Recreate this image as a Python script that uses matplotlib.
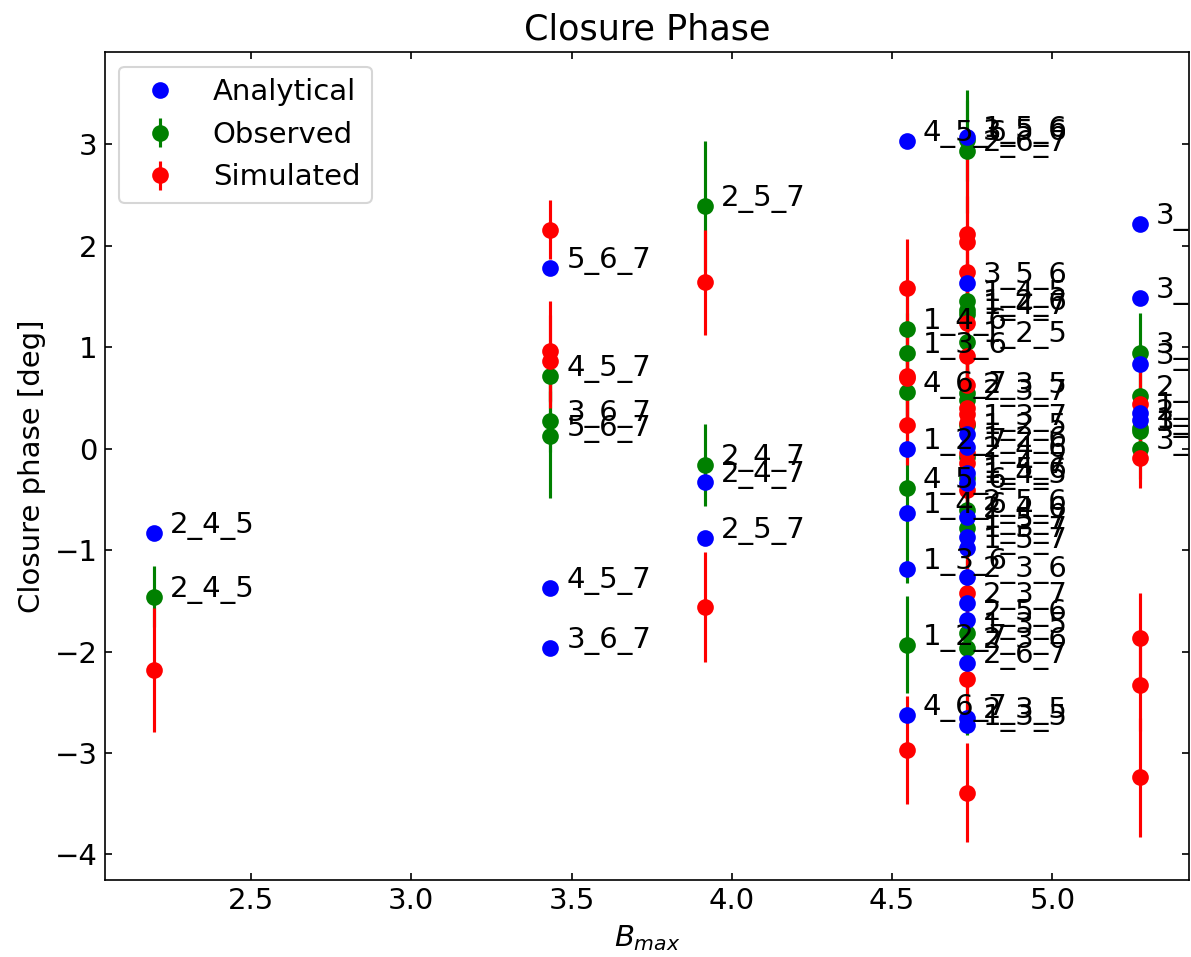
import matplotlib
matplotlib.use("Agg")
import matplotlib.pyplot as plt

# triangles (antenna triplets) and their longest baseline
triangles = ["2_4_5",
             "5_6_7", "4_5_7", "3_6_7",
             "2_5_7", "2_4_7",
             "4_5_6", "1_4_6", "1_3_6", "4_6_7", "1_2_7",
             "1_5_6", "3_5_6", "2_6_7", "1_4_5", "1_2_6", "1_4_7", "1_2_5", "2_3_5",
             "2_3_7", "1_3_7", "2_4_6", "2_5_6", "1_5_7", "1_3_5", "2_3_6",
             "3_4_5", "3_4_6", "3_4_7", "2_3_4", "1_3_4"]
bmax = [2.198,
        3.434, 3.434, 3.434,
        3.916, 3.916,
        4.546, 4.546, 4.546, 4.546, 4.546,
        4.733, 4.733, 4.733, 4.733, 4.733, 4.733, 4.733, 4.733,
        4.733, 4.733, 4.733, 4.733, 4.733, 4.733, 4.733,
        5.272, 5.272, 5.272, 5.272, 5.272]

analytical = [-0.83,
              1.78, -1.37, -1.96,
              -0.88, -0.33,
              3.03, -0.63, -1.19, -2.62, 0.00,
              3.07, 1.63, -2.11, -0.34, 0.02, -0.24, 0.15, -2.65,
              -1.52, -0.87, -0.67, -1.69, -0.98, -2.72, -1.26,
              2.22, 1.49, 0.84, 0.28, 0.35]

observed = [-1.46,
            0.125, 0.72, 0.27,
            2.39, -0.16,
            -0.39, 1.18, 0.94, 0.56, -1.93,
            -0.29, 3.04, 2.93, 1.46, 1.37, 1.33, 1.05, 0.55,
            0.48, 0.23, -0.08, -0.60, -0.78, -1.82, -1.96,
            0.00, 0.94, 0.17, 0.52, 0.20]
observed_err = [0.30,
                0.61, 0.25, 0.30,
                0.64, 0.40,
                0.93, 0.40, 0.40, 0.40, 0.48,
                0.40, 0.40, 0.61, 0.40, 0.40, 0.40, 0.40, 0.40,
                0.40, 0.40, 0.40, 0.40, 0.40, 0.40, 0.86,
                0.30, 0.40, 0.30, 0.30, 0.30]

simulated = [-2.18,
             2.16, 0.96, 0.86,
             1.64, -1.56,
             1.58, 0.72, 0.23, -2.97, 0.70,
             2.12, 2.04, 1.74, 1.24, 0.91, 0.63, 0.40, 0.34,
             0.25, -0.04, -0.14, -0.41, -1.42, -2.27, -3.39,
             -3.24, -1.87, -2.33, 0.44, -0.09]
simulated_err = [0.61,
                 0.29, 0.50, 0.46,
                 0.52, 0.54,
                 0.49, 0.45, 0.39, 0.53, 0.45,
                 0.75, 0.45, 0.45, 0.50, 0.50, 0.45, 0.40, 0.45,
                 0.45, 0.50, 0.50, 0.50, 0.55, 0.45, 0.49,
                 0.59, 0.45, 0.45, 0.55, 0.30]

plt.rcParams['font.size'] = 14

fig = plt.figure(figsize=(1191 / 150, 957 / 150), dpi=150)
ax = fig.add_axes([0.088, 0.0805, 0.9103, 0.8652])

ax.errorbar(bmax, observed, yerr=observed_err, fmt='o', color='green', ms=7, label='Observed')
ax.errorbar(bmax, simulated, yerr=simulated_err, fmt='o', color='red', ms=7, label='Simulated')
ax.plot(bmax, analytical, 'o', color='blue', ms=7, label='Analytical', zorder=3)

# triangle names next to analytical and observed points
for x, ya, yo, name in zip(bmax, analytical, observed, triangles):
    ax.text(x + 0.05, ya, name, clip_on=True)
    ax.text(x + 0.05, yo, name, clip_on=True)

ax.tick_params(direction='in', top=True, right=True)
ax.set_xlabel('$B_{max}$')
ax.set_ylabel('Closure phase [deg]')
ax.set_title('Closure Phase')
ax.legend(loc='upper left')

fig.savefig('out.png', dpi=150)
